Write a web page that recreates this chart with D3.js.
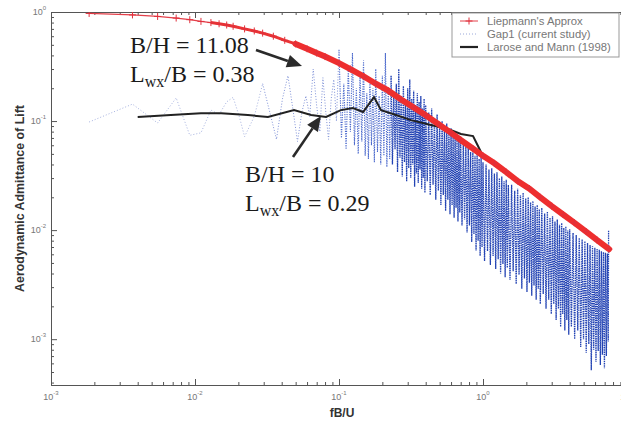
<!doctype html>
<html lang="en">
<head>
<meta charset="UTF-8" />
<title>Aerodynamic Admittance of Lift</title>
<script src="https://d3js.org/d3.v7.min.js"></script>
<style>
  html, body { margin: 0; padding: 0; background: #fff; }
  svg { display: block; }
</style>
</head>
<body>
<svg id="chart" width="621" height="421"></svg>
<script>
// Liepmann's approximation (red)
const liepF = [0.00184, 0.00368, 0.0055, 0.0074, 0.0092, 0.011, 0.0129, 0.0147, 0.0166, 0.0184,
  0.0221, 0.0258, 0.0295, 0.035, 0.042, 0.05, 0.06, 0.07, 0.08, 0.1, 0.12, 0.15, 0.18, 0.22,
  0.27, 0.33, 0.4, 0.5, 0.6, 0.7, 0.85, 1.0, 1.2, 1.45, 1.75, 2.1, 2.5, 3.0, 3.6, 4.3, 5.2, 6.2, 7.5];
const liepA = [0.97, 0.94, 0.91, 0.88, 0.85, 0.82, 0.80, 0.78, 0.76, 0.74,
  0.70, 0.67, 0.64, 0.60, 0.55, 0.51, 0.46, 0.42, 0.39, 0.34, 0.30, 0.255, 0.22, 0.19,
  0.158, 0.133, 0.113, 0.092, 0.078, 0.067, 0.056, 0.048, 0.041, 0.034, 0.028, 0.024, 0.020, 0.0166, 0.0139, 0.0117, 0.0097, 0.0081, 0.0067];

// Gap1 (current study), blue dotted: peaks and troughs
const gapF = [0.00184, 0.00368, 0.0055, 0.0074, 0.0092, 0.011, 0.0129, 0.0147, 0.0166,
  0.0184, 0.0203, 0.0221, 0.0258, 0.0295, 0.0331, 0.0368, 0.0405, 0.0442, 0.0478, 0.0515, 0.0552,
  0.0589, 0.0626, 0.0662, 0.0699, 0.0736, 0.0773, 0.081, 0.0846, 0.0883, 0.092, 0.096,
  0.100, 0.104, 0.108, 0.112, 0.116, 0.120, 0.124, 0.128, 0.132, 0.136, 0.140, 0.144, 0.148, 0.152,
  0.156, 0.160, 0.164, 0.168, 0.172, 0.176, 0.180, 0.185, 0.190, 0.195, 0.200, 0.205, 0.210, 0.215, 0.220, 0.225,
  0.230, 0.235, 0.240, 0.245, 0.250, 0.255, 0.260, 0.265, 0.270, 0.275, 0.280, 0.285, 0.290, 0.295,
  0.300, 0.305, 0.310, 0.315, 0.320, 0.325, 0.330, 0.335, 0.340, 0.345, 0.350, 0.355, 0.360, 0.365,
  0.370, 0.375, 0.380, 0.385, 0.390, 0.395, 0.400,
  0.41, 0.42, 0.43, 0.44, 0.45, 0.46, 0.47, 0.48, 0.49, 0.50, 0.51, 0.52, 0.53, 0.54, 0.55,
  0.56, 0.57, 0.58, 0.59, 0.60, 0.61, 0.62, 0.63, 0.64, 0.65, 0.66, 0.67, 0.68, 0.69, 0.70,
  0.715, 0.730, 0.745, 0.760, 0.775, 0.790, 0.805, 0.820, 0.835, 0.850, 0.865, 0.880, 0.895,
  0.910, 0.925, 0.940, 0.955, 0.970, 0.985, 1.000,
  1.025, 1.05, 1.075, 1.10, 1.125, 1.15, 1.175, 1.20, 1.225, 1.25, 1.275, 1.30, 1.325, 1.35,
  1.375, 1.40, 1.425, 1.45, 1.475, 1.50,
  1.54, 1.58, 1.62, 1.66, 1.70, 1.74, 1.78, 1.82, 1.86, 1.90, 1.94, 1.98, 2.02, 2.06, 2.10,
  2.14, 2.18, 2.22, 2.26, 2.30, 2.34, 2.38, 2.42, 2.46, 2.50,
  2.56, 2.62, 2.68, 2.74, 2.80, 2.86, 2.92, 2.98, 3.04, 3.10, 3.16, 3.22, 3.28, 3.34, 3.40,
  3.46, 3.52, 3.58, 3.64, 3.70, 3.76, 3.82, 3.88, 3.94, 4.00,
  4.11, 4.22, 4.33, 4.44, 4.55, 4.66, 4.77, 4.88, 4.99, 5.10, 5.21, 5.32, 5.43, 5.54, 5.65,
  5.76, 5.87, 5.98, 6.09, 6.20, 6.31, 6.42, 6.53, 6.64, 6.75, 6.86, 6.97, 7.08, 7.19, 7.30, 7.41, 7.45];
const gapA = [0.098, 0.143, 0.096, 0.163, 0.074, 0.078, 0.126, 0.115, 0.150,
  0.165, 0.11, 0.072, 0.11, 0.22, 0.12, 0.068, 0.16, 0.26, 0.13, 0.065, 0.12,
  0.17, 0.11, 0.30, 0.14, 0.08, 0.25, 0.12, 0.068, 0.16, 0.24, 0.10,
  0.45, 0.070, 0.22, 0.055, 0.30, 0.080, 0.42, 0.060, 0.20, 0.050, 0.28, 0.065, 0.36, 0.048,
  0.18, 0.045, 0.25, 0.060, 0.20, 0.042, 0.30, 0.052, 0.17, 0.040, 0.26, 0.048, 0.42, 0.038, 0.20, 0.045,
  0.26, 0.040, 0.18, 0.055, 0.22, 0.034, 0.30, 0.046, 0.17, 0.031, 0.21, 0.042, 0.15, 0.028,
  0.20, 0.037, 0.24, 0.030, 0.16, 0.040, 0.19, 0.025, 0.14, 0.033, 0.18, 0.027, 0.15, 0.036,
  0.17, 0.024, 0.13, 0.030, 0.16, 0.022, 0.14,
  0.028, 0.12, 0.021, 0.13, 0.026, 0.105, 0.019, 0.115, 0.023, 0.095, 0.017, 0.10, 0.021, 0.088, 0.015,
  0.095, 0.019, 0.080, 0.014, 0.086, 0.017, 0.074, 0.013, 0.079, 0.016, 0.068, 0.012, 0.072, 0.0145, 0.063,
  0.011, 0.066, 0.0125, 0.058, 0.0095, 0.060, 0.011, 0.052, 0.0078, 0.055, 0.0092, 0.048, 0.0065,
  0.050, 0.0080, 0.045, 0.0058, 0.047, 0.0070, 0.042,
  0.0052, 0.040, 0.0064, 0.036, 0.0048, 0.037, 0.0058, 0.033, 0.0044, 0.034, 0.0054, 0.030, 0.0040, 0.031,
  0.0049, 0.028, 0.0037, 0.029, 0.0045, 0.026,
  0.0035, 0.026, 0.0042, 0.023, 0.0032, 0.024, 0.0039, 0.021, 0.0029, 0.022, 0.0036, 0.0195, 0.0027, 0.020, 0.0033,
  0.018, 0.0025, 0.0185, 0.0031, 0.0165, 0.0023, 0.017, 0.0029, 0.0155, 0.0021,
  0.016, 0.0026, 0.0142, 0.0019, 0.0148, 0.0023, 0.0130, 0.0017, 0.0135, 0.0021, 0.0120, 0.0015, 0.0125, 0.0019, 0.0112,
  0.0013, 0.0116, 0.0017, 0.0105, 0.0012, 0.0108, 0.0015, 0.0099, 0.0011, 0.0102,
  0.0013, 0.0094, 0.0010, 0.0090, 0.0012, 0.0085, 0.00085, 0.0082, 0.0010, 0.0079, 0.00075, 0.0076, 0.00090, 0.0073, 0.00052,
  0.0071, 0.00080, 0.0069, 0.00062, 0.0067, 0.00078, 0.0066, 0.00058, 0.0064, 0.00072, 0.0063, 0.00054, 0.0062, 0.00070, 0.0061, 0.00095, 0.0100];

// Larose and Mann (1998), black
const laroseF = [0.0040, 0.0068, 0.011, 0.0152, 0.0233, 0.0321, 0.0487, 0.064, 0.0813, 0.103, 0.125, 0.147,
  0.175, 0.196, 0.249, 0.316, 0.435, 0.571, 0.703, 0.853, 0.923, 0.985, 1.137, 1.33, 1.49];
const laroseA = [0.109, 0.1135, 0.118, 0.118, 0.1135, 0.109, 0.126, 0.1135, 0.109, 0.126, 0.1316, 0.121,
  0.166, 0.126, 0.1135, 0.102, 0.0919, 0.0845, 0.076, 0.0728, 0.059, 0.0498, 0.0439, 0.0355, 0.0327];

const xTicks = [1e-3, 1e-2, 1e-1, 1e0, 1e1];
const xTickExp = ["-3", "-2", "-1", "0", "1"];
const yTicks = [1e0, 1e-1, 1e-2, 1e-3];
const yTickExp = ["0", "-1", "-2", "-3"];
const legendLabels = ["Liepmann's Approx", "Gap1 (current study)", "Larose and Mann (1998)"];

const plotL = 51, plotR = 627, plotT = 12, plotB = 385;
const svg = d3.select("#chart");

const x = d3.scaleLog().domain([1e-3, 10]).range([plotL, plotR]);
const y = d3.scaleLog().domain([3.8e-4, 1]).range([plotB, plotT]);

svg.append("defs").append("clipPath").attr("id", "plot-clip")
  .append("rect").attr("x", plotL).attr("y", plotT)
  .attr("width", plotR - plotL).attr("height", plotB - plotT);

// axes, ticks inward on all four sides
const isMajor = v => Math.abs(Math.log10(v) - Math.round(Math.log10(v))) < 1e-6;
const xMinor = x.ticks().filter(v => !isMajor(v));
const yMinor = y.ticks().filter(v => !isMajor(v));

const axes = svg.append("g");
function addAxis(gen, tr, vals, size) {
  axes.append("g").attr("transform", tr)
    .call(gen.tickValues(vals).tickSizeInner(-size).tickSizeOuter(0).tickFormat(""))
    .call(g => g.select(".domain").attr("stroke", "#555"))
    .call(g => g.selectAll(".tick line").attr("stroke", "#555"));
}
addAxis(d3.axisBottom(x), `translate(0,${plotB})`, xTicks, 6);
addAxis(d3.axisBottom(x), `translate(0,${plotB})`, xMinor, 3);
addAxis(d3.axisTop(x), `translate(0,${plotT})`, xTicks, 6);
addAxis(d3.axisTop(x), `translate(0,${plotT})`, xMinor, 3);
addAxis(d3.axisLeft(y), `translate(${plotL},0)`, yTicks, 6);
addAxis(d3.axisLeft(y), `translate(${plotL},0)`, yMinor, 3);
addAxis(d3.axisRight(y), `translate(${plotR},0)`, yTicks, 6);
addAxis(d3.axisRight(y), `translate(${plotR},0)`, yMinor, 3);

// tick labels 10^n
const labelStyle = t => t.attr("font-family", "Liberation Sans, Arial, sans-serif")
  .attr("font-size", 9).attr("fill", "#777");
svg.append("g").selectAll("text").data(xTicks).join("text")
  .call(labelStyle)
  .attr("x", d => x(d)).attr("y", 400).attr("text-anchor", "middle")
  .each(function (d, i) {
    const t = d3.select(this);
    t.append("tspan").text("10");
    t.append("tspan").attr("dy", -5).attr("font-size", 6).text(xTickExp[i]);
  });
svg.append("g").selectAll("text").data(yTicks).join("text")
  .call(labelStyle)
  .attr("x", 46).attr("y", d => y(d) + 3).attr("text-anchor", "end")
  .each(function (d, i) {
    const t = d3.select(this);
    t.append("tspan").text("10");
    t.append("tspan").attr("dy", -5).attr("font-size", 6).text(yTickExp[i]);
  });

// axis titles
svg.append("text")
  .attr("transform", `translate(24,${(plotT + plotB) / 2}) rotate(-90)`)
  .attr("text-anchor", "middle")
  .attr("font-family", "Liberation Sans, Arial, sans-serif")
  .attr("font-size", 12.4).attr("font-weight", "bold").attr("fill", "#333")
  .text("Aerodynamic Admittance of Lift");
svg.append("text")
  .attr("x", 342).attr("y", 417).attr("text-anchor", "middle")
  .attr("font-family", "Liberation Sans, Arial, sans-serif")
  .attr("font-size", 12).attr("font-weight", "bold").attr("fill", "#333")
  .text("fB/U");

const plot = svg.append("g").attr("clip-path", "url(#plot-clip)");
const line = d3.line().x(d => x(d[0])).y(d => y(d[1]));

// Gap1: faint sparse start, medium, then the dense band
const gap = d3.zip(gapF, gapA);
plot.append("path").datum(gap.filter(d => d[0] <= 0.0296))
  .attr("d", line).attr("fill", "none")
  .attr("stroke", "#a6b2e0").attr("stroke-width", 1).attr("stroke-dasharray", "1 2");
plot.append("path").datum(gap.filter(d => d[0] >= 0.0295 && d[0] <= 0.1))
  .attr("d", line).attr("fill", "none")
  .attr("stroke", "#7f92d8").attr("stroke-width", 1).attr("stroke-dasharray", "1 1.8");
plot.append("path").datum(gap.filter(d => d[0] >= 0.1 && d[0] <= 0.23))
  .attr("d", line).attr("fill", "none")
  .attr("stroke", "#4a68cc").attr("stroke-width", 1.1).attr("stroke-dasharray", "1.2 1.2");
plot.append("path").datum(gap.filter(d => d[0] >= 0.23))
  .attr("d", line).attr("fill", "none")
  .attr("stroke", "#2444b4").attr("stroke-width", 1.3).attr("stroke-dasharray", "1.5 0.8");

// Larose and Mann
const larose = d3.zip(laroseF, laroseA);
plot.append("path").datum(larose)
  .attr("d", line).attr("fill", "none")
  .attr("stroke", "#222").attr("stroke-width", 2);

// Liepmann
const liep = d3.zip(liepF, liepA);
plot.append("path").datum(liep).attr("d", line).attr("fill", "none")
  .attr("stroke", "#e4404a").attr("stroke-width", 1.3);
plot.append("path").datum(liep.filter(d => d[0] >= 0.012)).attr("d", line).attr("fill", "none")
  .attr("stroke", "#ea3434").attr("stroke-width", 3);
plot.append("path").datum(liep.filter(d => d[0] >= 0.05)).attr("d", line).attr("fill", "none")
  .attr("stroke", "#ee2e2e").attr("stroke-width", 6).attr("stroke-linecap", "round");
plot.append("g").selectAll("path").data(liep).join("path")
  .attr("d", d => `M${x(d[0]) - 3.5},${y(d[1])}h7M${x(d[0])},${y(d[1]) - 3.5}v7`)
  .attr("stroke", "#e0303c").attr("stroke-width", 1).attr("fill", "none");

// legend
const lg = svg.append("g");
lg.append("rect").attr("x", 452).attr("y", 13).attr("width", 167).attr("height", 44)
  .attr("fill", "#fff").attr("stroke", "#999").attr("stroke-width", 1);
const rowY = [21, 34, 47];
lg.append("line").attr("x1", 460).attr("x2", 478).attr("y1", rowY[0]).attr("y2", rowY[0])
  .attr("stroke", "#e4404a").attr("stroke-width", 1);
lg.append("path").attr("d", `M465.5,${rowY[0]}h7M469,${rowY[0] - 3.5}v7`)
  .attr("stroke", "#e0303c").attr("stroke-width", 1);
lg.append("line").attr("x1", 460).attr("x2", 478).attr("y1", rowY[1]).attr("y2", rowY[1])
  .attr("stroke", "#9aa8da").attr("stroke-width", 1).attr("stroke-dasharray", "1 2");
lg.append("line").attr("x1", 460).attr("x2", 478).attr("y1", rowY[2]).attr("y2", rowY[2])
  .attr("stroke", "#222").attr("stroke-width", 2.2);
lg.selectAll("text").data(legendLabels).join("text")
  .attr("x", 487).attr("y", (d, i) => rowY[i] + 4)
  .attr("font-family", "Liberation Sans, Arial, sans-serif")
  .attr("font-size", 11.3).attr("fill", "#777")
  .text(d => d);

// annotations
const ann = svg.append("g")
  .attr("font-family", "Liberation Serif, Times New Roman, serif")
  .attr("font-size", 24).attr("fill", "#1a1a1a");
function lwx(xp, yp, value) {
  const t = ann.append("text").attr("x", xp).attr("y", yp);
  t.append("tspan").text("L");
  t.append("tspan").attr("font-size", 16).attr("dy", 5).text("wx");
  t.append("tspan").attr("dy", -5).text("/B = " + value);
}
ann.append("text").attr("x", 130).attr("y", 53).text("B/H = 11.08");
lwx(130, 82, "0.38");
ann.append("text").attr("x", 245).attr("y", 182).text("B/H = 10");
lwx(245, 211, "0.29");

function arrow(x1, y1, x2, y2) {
  const a = Math.atan2(y2 - y1, x2 - x1), L = 15, w = 6.5;
  const bx = x2 - L * Math.cos(a), by = y2 - L * Math.sin(a);
  ann.append("line").attr("x1", x1).attr("y1", y1).attr("x2", bx).attr("y2", by)
    .attr("stroke", "#2a2a2a").attr("stroke-width", 2.6);
  ann.append("path")
    .attr("d", `M${x2},${y2}L${bx - w * Math.sin(a)},${by + w * Math.cos(a)}L${bx + w * Math.sin(a)},${by - w * Math.cos(a)}Z`)
    .attr("fill", "#2a2a2a");
}
arrow(256, 50, 302, 66);
arrow(293, 157, 321, 116);
</script>
</body>
</html>
